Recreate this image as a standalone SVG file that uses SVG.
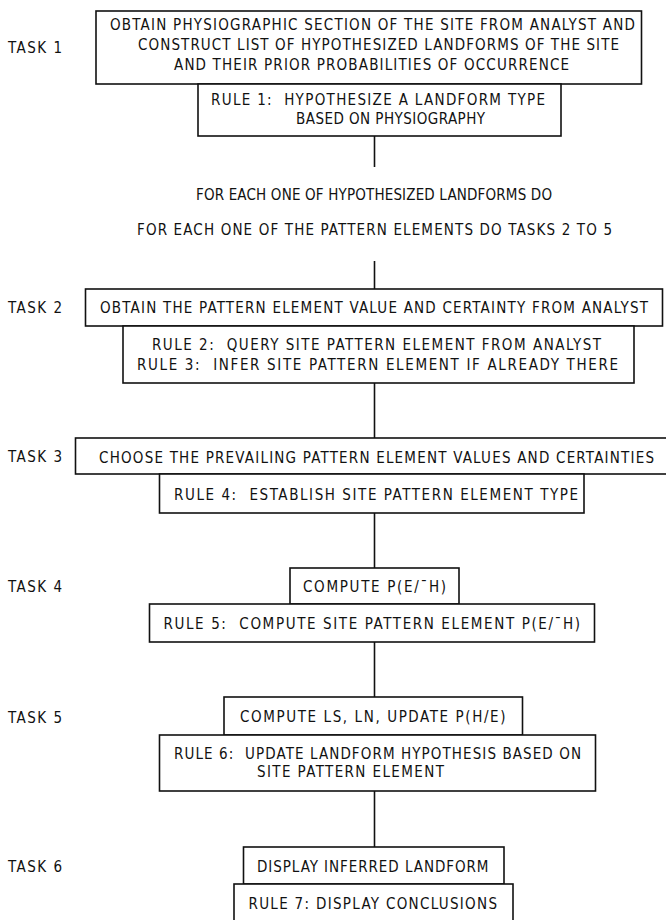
<svg xmlns="http://www.w3.org/2000/svg" width="666" height="920" viewBox="0 0 666 920">
<style>
.b{fill:#fff;stroke:#111;stroke-width:1.6}
.c{stroke:#111;stroke-width:1.6;fill:none}
text{font-family:"DejaVu Sans Condensed","DejaVu Sans","Liberation Sans",sans-serif;font-stretch:condensed;font-size:15px;fill:#111;white-space:pre}
</style>
<rect width="666" height="920" fill="#fff"/>
<g id="connectors">
<line class="c" x1="374.5" y1="136" x2="374.5" y2="167"/>
<line class="c" x1="374.5" y1="261" x2="374.5" y2="289"/>
<line class="c" x1="374.5" y1="383" x2="374.5" y2="438"/>
<line class="c" x1="374.5" y1="513" x2="374.5" y2="568"/>
<line class="c" x1="374.5" y1="642" x2="374.5" y2="697"/>
<line class="c" x1="374.5" y1="791" x2="374.5" y2="847"/>
</g>
<g id="labels">
<text x="8" y="52.5" textLength="54" lengthAdjust="spacing">TASK 1</text>
<text x="8" y="312.5" textLength="54" lengthAdjust="spacing">TASK 2</text>
<text x="8" y="462" textLength="54" lengthAdjust="spacing">TASK 3</text>
<text x="8" y="591.5" textLength="54" lengthAdjust="spacing">TASK 4</text>
<text x="8" y="722.5" textLength="54" lengthAdjust="spacing">TASK 5</text>
<text x="8" y="871.5" textLength="54" lengthAdjust="spacing">TASK 6</text>
<text x="196" y="200" textLength="356" lengthAdjust="spacing">FOR EACH ONE OF HYPOTHESIZED LANDFORMS DO</text>
<text x="137" y="234.5" textLength="475" lengthAdjust="spacing">FOR EACH ONE OF THE PATTERN ELEMENTS DO TASKS 2 TO 5</text>
</g>
<g id="task1">
<rect class="b" x="96" y="11" width="545.5" height="73"/>
<text x="110" y="30.3" textLength="525" lengthAdjust="spacing">OBTAIN PHYSIOGRAPHIC SECTION OF THE SITE FROM ANALYST AND</text>
<text x="138" y="50.3" textLength="481" lengthAdjust="spacing">CONSTRUCT LIST OF HYPOTHESIZED LANDFORMS OF THE SITE</text>
<text x="174" y="70.3" textLength="395" lengthAdjust="spacing">AND THEIR PRIOR PROBABILITIES OF OCCURRENCE</text>
</g>
<g id="rule1">
<rect class="b" x="198" y="84" width="363" height="52"/>
<text x="211" y="105" textLength="334" lengthAdjust="spacing">RULE 1:  HYPOTHESIZE A LANDFORM TYPE</text>
<text x="296" y="124" textLength="189" lengthAdjust="spacing">BASED ON PHYSIOGRAPHY</text>
</g>
<g id="task2">
<rect class="b" x="85.5" y="289" width="577" height="37"/>
<text x="100" y="313" textLength="548" lengthAdjust="spacing">OBTAIN THE PATTERN ELEMENT VALUE AND CERTAINTY FROM ANALYST</text>
</g>
<g id="rule2-3">
<rect class="b" x="123" y="326" width="511" height="57"/>
<text x="152" y="350" textLength="449" lengthAdjust="spacing">RULE 2:  QUERY SITE PATTERN ELEMENT FROM ANALYST</text>
<text x="137" y="369.5" textLength="481" lengthAdjust="spacing">RULE 3:  INFER SITE PATTERN ELEMENT IF ALREADY THERE</text>
</g>
<g id="task3">
<rect class="b" x="75.5" y="438" width="592" height="36"/>
<text x="99" y="463" textLength="555" lengthAdjust="spacing">CHOOSE THE PREVAILING PATTERN ELEMENT VALUES AND CERTAINTIES</text>
</g>
<g id="rule4">
<rect class="b" x="159.5" y="474" width="424.5" height="39"/>
<text x="174" y="499.5" textLength="404" lengthAdjust="spacing">RULE 4:  ESTABLISH SITE PATTERN ELEMENT TYPE</text>
</g>
<g id="task4">
<rect class="b" x="290" y="568" width="169" height="36"/>
<text x="303" y="592" textLength="143" lengthAdjust="spacing">COMPUTE P(E/¯H)</text>
</g>
<g id="rule5">
<rect class="b" x="149.5" y="604" width="445" height="38"/>
<text x="163.5" y="629" textLength="416.5" lengthAdjust="spacing">RULE 5:  COMPUTE SITE PATTERN ELEMENT P(E/¯H)</text>
</g>
<g id="task5">
<rect class="b" x="224" y="697" width="298.5" height="38"/>
<text x="240" y="722" textLength="265.5" lengthAdjust="spacing">COMPUTE LS, LN, UPDATE P(H/E)</text>
</g>
<g id="rule6">
<rect class="b" x="159.5" y="735" width="436" height="56"/>
<text x="174" y="759" textLength="407" lengthAdjust="spacing">RULE 6:  UPDATE LANDFORM HYPOTHESIS BASED ON</text>
<text x="257" y="777" textLength="187" lengthAdjust="spacing">SITE PATTERN ELEMENT</text>
</g>
<g id="task6">
<rect class="b" x="243.5" y="847" width="260.5" height="37"/>
<text x="257" y="871.5" textLength="231.5" lengthAdjust="spacing">DISPLAY INFERRED LANDFORM</text>
</g>
<g id="rule7">
<rect class="b" x="234" y="884" width="279" height="40"/>
<text x="248.5" y="909" textLength="248.5" lengthAdjust="spacing">RULE 7: DISPLAY CONCLUSIONS</text>
</g>
</svg>
